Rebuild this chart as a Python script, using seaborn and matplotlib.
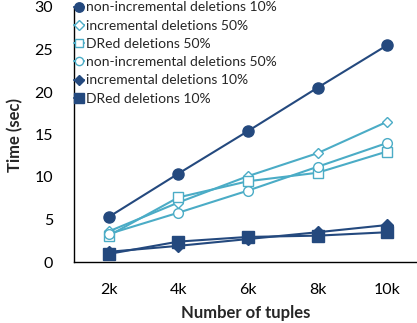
import matplotlib
matplotlib.use("Agg")
import matplotlib.pyplot as plt
import seaborn as sns
import pandas as pd

tuples_k = [2, 4, 6, 8, 10]
tick_labels = ["2k", "4k", "6k", "8k", "10k"]

non_inc_10 = [5.3, 10.4, 15.4, 20.5, 25.5]
inc_50 = [3.6, 7.0, 10.1, 12.8, 16.5]
dred_50 = [3.1, 7.6, 9.5, 10.5, 13.0]
non_inc_50 = [3.3, 5.8, 8.4, 11.2, 14.0]
inc_10 = [1.2, 1.9, 2.7, 3.5, 4.35]
dred_10 = [0.95, 2.4, 2.95, 3.1, 3.5]

series_names = [
    "non-incremental deletions 10%",
    "incremental deletions 50%",
    "DRed deletions 50%",
    "non-incremental deletions 50%",
    "incremental deletions 10%",
    "DRed deletions 10%",
]
series_values = [non_inc_10, inc_50, dred_50, non_inc_50, inc_10, dred_10]

DARK = "#24497E"
LIGHT = "#4BACC6"
styles = [
    dict(color=DARK, marker="o", ms=8, mfc=DARK),
    dict(color=LIGHT, marker="D", ms=5.5, mfc="white"),
    dict(color=LIGHT, marker="s", ms=7, mfc="white"),
    dict(color=LIGHT, marker="o", ms=7, mfc="white"),
    dict(color=DARK, marker="D", ms=6, mfc=DARK),
    dict(color=DARK, marker="s", ms=8, mfc=DARK),
]

sns.set_theme(style="white")
plt.rcParams["font.family"] = ["Lato", "DejaVu Sans"]

fig = plt.figure(figsize=(4.17, 3.23), dpi=100)
ax = fig.add_axes([74 / 417, 1 - 262 / 323, 1 - 74 / 417, (262 - 7) / 323])

for name, vals, st in zip(series_names, series_values, styles):
    df = pd.DataFrame({"x": tuples_k, "y": vals})
    sns.lineplot(data=df, x="x", y="y", ax=ax, color=st["color"], lw=1.5,
                 marker=st["marker"], markersize=st["ms"],
                 markerfacecolor=st["mfc"], markeredgecolor=st["color"],
                 markeredgewidth=1.0, label=name)

ax.set_xlim(1, 10.86)
ax.set_ylim(0, 30)
ax.set_xticks(tuples_k)
ax.set_xticklabels(tick_labels)
ax.set_yticks(range(0, 31, 5))
ax.tick_params(axis="both", which="both", direction="out", length=5, width=0.8,
               colors="#000000", labelsize=11.5)
ax.tick_params(axis="x", pad=10)
ax.tick_params(axis="y", pad=10)
for s in ["top", "right"]:
    ax.spines[s].set_visible(False)
for s in ["left", "bottom"]:
    ax.spines[s].set_color("#000000")
    ax.spines[s].set_linewidth(1.0)

ax.set_xlabel("Number of tuples", fontsize=12, fontweight="bold", labelpad=6)
ax.set_ylabel("Time (sec)", fontsize=12, fontweight="bold", labelpad=8)

leg = ax.legend(loc="upper left", bbox_to_anchor=(0.0, 1.022), frameon=False,
                fontsize=10, handlelength=0.7, handletextpad=0.15,
                labelspacing=0.45, borderaxespad=0.0, borderpad=0.0,
                markerscale=0.85)

fig.savefig("out.png", dpi=100)
